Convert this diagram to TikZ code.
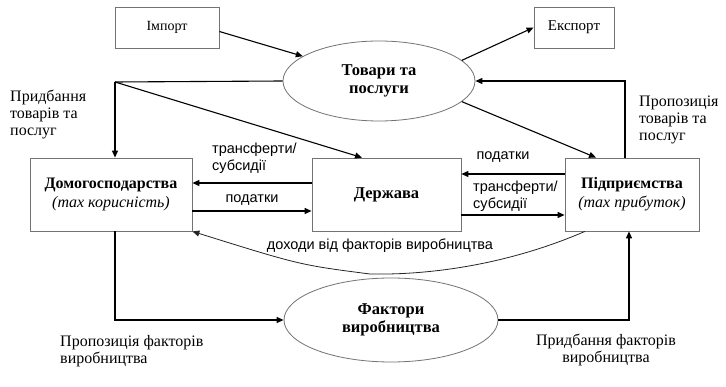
\documentclass[tikz,border=0pt]{standalone}
\usepackage{fontspec}
\setmainfont{Liberation Serif}
\newfontfamily\lsans{Liberation Sans}
\usetikzlibrary{shapes.geometric,arrows.meta,calc}
\begin{document}
\begin{tikzpicture}[x=1pt,y=-1pt,
  box/.style={draw=black!55,line width=0.8pt,rectangle,inner sep=0pt,align=center,font=\fontsize{16}{19}\selectfont},
  oval/.style={draw=black!55,line width=0.8pt,ellipse,inner sep=0pt,align=center,font=\fontsize{16.5}{18}\selectfont\bfseries},
  arr/.style={line width=1.1pt,-{Triangle[length=7pt,width=6pt]}},
  thinarr/.style={line width=0.8pt,black!85,-{Triangle[length=7pt,width=6pt]}},
  slab/.style={font=\fontsize{16}{17}\selectfont,inner sep=0pt,align=left},
  alab/.style={font=\lsans\fontsize{14.5}{17}\selectfont,inner sep=0pt,align=left}]
\useasboundingbox[fill=white] (0,0) rectangle (726,387);

\node[box,minimum width=104pt,minimum height=41pt,font=\fontsize{14}{16}\selectfont] (imp) at (167,27.5) {Імпорт};
\node[box,minimum width=80pt,minimum height=41pt,font=\fontsize{15}{16}\selectfont] (exp) at (574,27.5) {Експорт};
\node[oval,minimum width=192pt,minimum height=80pt] (tov) at (379,81) {Товари та\\послуги};
\node[box,minimum width=162pt,minimum height=73pt] (dom) at (111,194.5) {\textbf{Домогосподарства}\\\textit{(max корисність)}};
\node[box,minimum width=149pt,minimum height=73pt,font=\fontsize{16.5}{19}\selectfont\bfseries] (derz) at (386.5,194.5) {Держава};
\node[box,minimum width=134pt,minimum height=73pt] (pid) at (632,194.5) {\textbf{Підприємства}\\\textit{(max прибуток)}};
\node[oval,minimum width=214pt,minimum height=84pt] (fak) at (391,320) {Фактори\\виробництва};

\coordinate (jn) at (115,82);
\coordinate (low) at (370,274);

% import / export
\draw[arr] ([yshift=-4pt]imp.east) -- (tov.162);
\draw[arr] (tov.14) -- (exp.west);
% goods -> households, state
\draw[line width=1.1pt] (tov.west) -- (jn);
\draw[arr] (jn) -- (jn |- dom.north);
\draw[arr] (jn) -- ([xshift=-24.5pt]derz.north);
% goods -> firms
\draw[arr] (tov.-14) -- ([xshift=-36pt]pid.north);
% firms -> goods
\draw[arr] ([xshift=-7pt]pid.north) |- (tov.east);
% state <-> households
\draw[arr] ([yshift=11.5pt]derz.west) -- ([yshift=11.5pt]dom.east);
\draw[arr] ([yshift=-16.5pt]dom.east) -- ([yshift=-16.5pt]derz.west);
% firms <-> state
\draw[arr] ([yshift=20.5pt]pid.west) -- ([yshift=20.5pt]derz.east);
\draw[arr] ([yshift=-20.5pt]derz.east) -- ([yshift=-20.5pt]pid.west);
% incomes curve
\draw[thinarr] ([xshift=-47pt]pid.south) .. controls (500,268) and (420,275) .. (low)
  .. controls (300,265) .. (dom.south east);
% factors
\draw[arr] ([xshift=4pt]dom.south) |- (fak.west);
\draw[arr] (fak.east) -| ([xshift=-3pt]pid.south);

% labels
\node[slab,anchor=north west] (l1) at (10,90) {Придбання\\товарів та\\послуг};
\node[slab,anchor=north west] (l2) at (639,96) {Пропозиція\\товарів та\\послуг};
\node[slab,anchor=north west] (l3) at (60,335) {Пропозиція факторів\\виробництва};
\node[slab,anchor=north,align=center] (l4) at (606,334) {Придбання факторів\\виробництва};
\node[alab,anchor=north west] (t1) at (212,143) {трансферти/\\субсидії};
\node[alab] (p1) at (252,200) {податки};
\node[alab] (p2) at (503,157) {податки};
\node[alab,anchor=north west] (t2) at (473,181) {трансферти/\\субсидії};
\node[alab] (dh) at (380,246) {доходи від факторів виробництва};
\end{tikzpicture}
\end{document}
